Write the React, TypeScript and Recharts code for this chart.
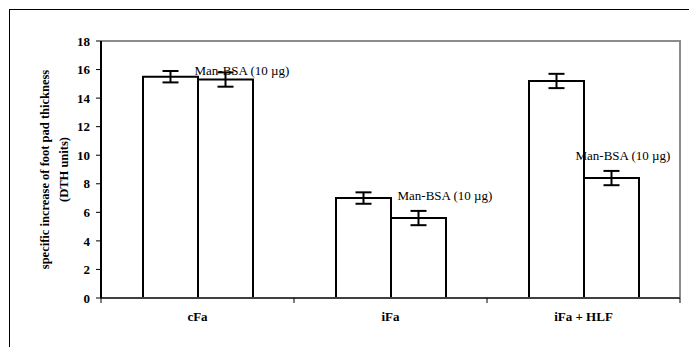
import React from 'react';
import {
  BarChart,
  Bar,
  XAxis,
  YAxis,
  ErrorBar,
  ReferenceDot,
  ReferenceArea,
} from 'recharts';

const categories = ['cFa', 'iFa', 'iFa + HLF'];
const controlValues = [15.5, 7.0, 15.2];
const controlErrors = [0.4, 0.4, 0.5];
const manBsaValues = [15.3, 5.6, 8.4];
const manBsaErrors = [0.5, 0.5, 0.5];
const labelValues = [15.95, 7.2, 10.0];
const yTicks = [0, 2, 4, 6, 8, 10, 12, 14, 16, 18];
const LABEL_TEXT = 'Man-BSA (10 \u00b5g)';

// label horizontal offsets from category centre (px)
const LABEL_DX = [-3, 7, -8];

const FONT = '"Liberation Serif", "Times New Roman", serif';

// plot box size in px (689 - 101 - 9, 347 - 41 - 49)
const PW = 579;
const PH = 257;

const data = categories.map((name, i) => ({
  name,
  control: controlValues[i],
  controlErr: controlErrors[i],
  manBsa: manBsaValues[i],
  manBsaErr: manBsaErrors[i],
}));

const YTitle = (props: any) => {
  const vb = props.viewBox || { x: 0, y: 0, width: 0, height: 0 };
  const cy = vb.y + vb.height / 2;
  const lines = [
    { x: vb.x + 45, text: 'specific increase of foot pad thickness' },
    { x: vb.x + 64, text: '(DTH units)' },
  ];
  return (
    <g>
      {lines.map((l, i) => (
        <text
          key={i}
          x={l.x}
          y={cy}
          transform={`rotate(-90, ${l.x}, ${cy})`}
          textAnchor="middle"
          dominantBaseline="central"
          fontFamily={FONT}
          fontWeight="bold"
          fontSize={12.5}
          fill="#000"
        >
          {l.text}
        </text>
      ))}
    </g>
  );
};

// category label plus tick marks on the category boundaries
const CatTick = (props: any) => {
  const { x, y, payload, index } = props;
  const half = payload.offset || 0;
  const last = index === categories.length - 1;
  return (
    <g>
      <line x1={x - half} y1={y} x2={x - half} y2={y + 5} stroke="#000" strokeWidth={1} />
      {last && (
        <line x1={x + half} y1={y} x2={x + half} y2={y + 5} stroke="#000" strokeWidth={1} />
      )}
      <text
        x={x}
        y={y + 23}
        textAnchor="middle"
        fontFamily={FONT}
        fontWeight="bold"
        fontSize={13}
        fill="#000"
      >
        {payload.value}
      </text>
    </g>
  );
};

const makeLabel = (dx: number) => (props: any) => {
  const vb = props.viewBox || { x: 0, y: 0 };
  return (
    <text
      x={vb.x + dx}
      y={vb.y}
      dominantBaseline="central"
      fontFamily={FONT}
      fontSize={13}
      fill="#000"
    >
      {LABEL_TEXT}
    </text>
  );
};

export default function App() {
  return (
    <div
      style={{
        position: 'absolute',
        left: 0,
        top: 0,
        width: 689,
        height: 347,
        overflow: 'hidden',
        background: '#fff',
      }}
    >
      {/* outer frame, only top and left edges fall inside the picture */}
      <div
        style={{
          position: 'absolute',
          left: 9,
          top: 9,
          width: 800,
          height: 500,
          borderTop: '1px solid #000',
          borderLeft: '1px solid #000',
        }}
      />
      <div style={{ position: 'absolute', left: 0, top: 0 }}>
        <BarChart
          width={689}
          height={347}
          data={data}
          margin={{ top: 41, right: 9, bottom: 0, left: 0 }}
          barGap={0}
          barCategoryGap="21.5%"
        >
          {/* plot frame: gray top + right edges */}
          <ReferenceArea
            x1="cFa"
            x2="iFa + HLF"
            y1={0}
            y2={18}
            fill="none"
            stroke="#8c8c8c"
            strokeWidth={2}
            strokeDasharray={`${PW + PH} ${PW + PH}`}
            ifOverflow="visible"
          />
          {/* black left edge (value axis line) */}
          <ReferenceArea
            x1="cFa"
            x2="iFa + HLF"
            y1={0}
            y2={18}
            fill="none"
            stroke="#000"
            strokeWidth={2}
            strokeDasharray={`0 ${2 * PW + PH} ${PH} 0`}
            ifOverflow="visible"
          />
          <XAxis
            dataKey="name"
            height={49}
            interval={0}
            tickLine={false}
            tickSize={0}
            tickMargin={0}
            axisLine={{ stroke: '#404040', strokeWidth: 2 }}
            tick={<CatTick />}
          />
          <YAxis
            width={101}
            domain={[0, 18]}
            ticks={yTicks}
            interval={0}
            tickSize={5}
            tickMargin={6}
            axisLine={{ stroke: '#000', strokeWidth: 2 }}
            tickLine={{ stroke: '#000', strokeWidth: 1 }}
            tick={{ fontFamily: FONT, fontWeight: 'bold', fontSize: 13, fill: '#000' }}
            label={{ content: YTitle }}
          />
          <Bar
            dataKey="control"
            fill="#fff"
            stroke="#000"
            strokeWidth={2}
            barSize={55}
            isAnimationActive={false}
          >
            <ErrorBar dataKey="controlErr" width={8} stroke="#000" strokeWidth={2} />
          </Bar>
          <Bar
            dataKey="manBsa"
            fill="#fff"
            stroke="#000"
            strokeWidth={2}
            barSize={55}
            isAnimationActive={false}
          >
            <ErrorBar dataKey="manBsaErr" width={8} stroke="#000" strokeWidth={2} />
          </Bar>
          {categories.map((c, i) => (
            <ReferenceDot
              key={c}
              x={c}
              y={labelValues[i]}
              r={0}
              stroke="none"
              fill="none"
              label={{ content: makeLabel(LABEL_DX[i]) }}
            />
          ))}
        </BarChart>
      </div>
    </div>
  );
}
